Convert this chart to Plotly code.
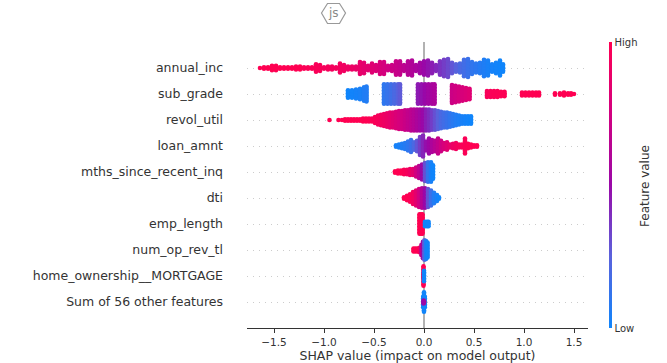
import plotly.graph_objects as go

features = ["annual_inc", "sub_grade", "revol_util", "loan_amnt", "mths_since_recent_inq",
            "dti", "emp_length", "num_op_rev_tl", "home_ownership__MORTGAGE", "Sum of 56 other features"]

annual_inc_shap = [-1.64,-1.6,-1.56,-1.52,-1.48,-1.44,-1.4,-1.36,-1.32,-1.28,-1.24,-1.2,-1.16,-1.12,-1.08,-1.04,-1.0,-.96,-.92,-.88,-.84,-.8,-.76,-.72,-.68,-.64,-.6,-.56,-.52,-.48,-.44,-.4,-.36,-.32,-.28,-.24,-.2,-.16,-.12,-.08,-.04,0,.04,.08,.12,.16,.2,.24,.28,.32,.36,.4,.44,.48,.52,.56,.6,.64,.68,.72,.76,.79]
annual_inc_n = [1,2,2,4,4,2,2,2,2,3,3,2,2,2,6,5,2,3,3,2,7,5,3,3,3,9,8,4,7,5,9,9,4,5,10,10,5,10,11,5,8,10,11,8,5,10,12,13,8,6,7,12,13,9,7,8,12,11,6,8,11,6]
annual_inc_f = [1,1,1,1,1,1,1,1,1,1,1,.98,.98,.97,.97,.96,.95,.95,.94,.94,.93,.92,.91,.9,.88,.87,.85,.84,.82,.8,.78,.76,.74,.72,.7,.68,.65,.62,.6,.57,.54,.5,.47,.44,.41,.38,.35,.32,.28,.24,.2,.17,.14,.11,.09,.07,.05,.03,.02,.01,0,0]

sub_grade_shap = [-.76,-.72,-.68,-.64,-.6,-.575,-.4,-.365,-.33,-.295,-.26,-.24,-.06,-.025,.01,.045,.08,.105,.28,.315,.35,.385,.42,.455,.63,.665,.7,.735,.77,.805,.98,1.015,1.05,1.085,1.12,1.15,1.31,1.36,1.4,1.44,1.47,1.5]
sub_grade_n = [6,6,7,8,10,11,14,14,14,14,14,14,14,14,14,14,14,14,13,12,11,10,9,8,5,5,5,5,4,4,3,3,3,3,3,3,2,2,3,2,2,1]
sub_grade_f = [0,.01,.02,.03,.05,.06,.1,.13,.16,.2,.24,.27,.45,.47,.5,.53,.56,.58,.72,.74,.76,.78,.8,.82,.96,.97,.98,.98,.99,.99,1,1,1,1,1,1,1,1,1,1,1,1]

revol_util_shap = [-.945,-.855,-.82,-.79,-.76,-.73,-.7,-.67,-.64,-.61,-.58,-.55,-.52,-.49,-.46,-.43,-.4,-.37,-.34,-.31,-.28,-.25,-.22,-.19,-.16,-.13,-.1,-.07,-.04,-.01,.02,.05,.08,.11,.14,.17,.2,.23,.26,.29,.32,.35,.38,.41,.44,.47]
revol_util_n = [1,1,1,2,2,2,2,2,2,3,3,3,3,5,7,8,9,10,11,11,12,13,13,14,14,15,15,15,15,15,15,15,14,14,13,12,11,11,10,9,8,7,6,6,6,6]
revol_util_f = [1,1,1,1,1,1,1,1,1,1,1,.99,.98,.97,.95,.93,.91,.89,.86,.83,.8,.77,.74,.71,.68,.65,.62,.58,.54,.5,.44,.4,.35,.3,.25,.2,.17,.14,.11,.08,.06,.04,.03,.02,.01,0]

loan_amnt_shap = [-.28,-.25,-.22,-.19,-.16,-.13,-.1,-.07,-.04,-.01,.02,.05,.08,.11,.14,.17,.2,.23,.26,.29,.32,.35,.38,.41,.44,.47,.5,.53]
loan_amnt_n = [2,3,4,5,7,9,6,8,13,15,7,11,9,8,11,8,5,6,3,4,5,3,3,11,4,3,2,2]
loan_amnt_f = [.02,.03,.05,.07,.1,.14,.2,.28,.35,.42,.48,.52,.58,.63,.68,.73,.78,.82,.86,.9,.93,.95,.97,.98,.99,1,1,1]

mths_shap = [-.29,-.26,-.23,-.2,-.17,-.14,-.11,-.08,-.05,-.02,.01,.04,.07,.09]
mths_n = [2,3,3,4,4,5,5,7,9,11,13,14,14,10]
mths_f = [1,1,1,.98,.95,.9,.85,.75,.65,.5,.3,.12,.03,0]

dti_shap = [-.2,-.17,-.14,-.11,-.08,-.05,-.02,.01,.04,.07,.1,.13,.15]
dti_n = [2,4,6,9,11,13,14,14,13,11,8,5,2]
dti_f = [1,1,.98,.93,.85,.75,.62,.5,.3,.15,.06,.02,0]

emp_length_shap = [-.045,-.03,-.015,.01,.03,.045]
emp_length_n = [14,14,14,4,4,4]
emp_length_f = [1,1,1,0,0,0]

num_op_shap = [-.105,-.085,-.065,-.045,-.025,-.01,.005,.02,.035]
num_op_n = [3,3,3,4,8,12,14,13,11]
num_op_f = [1,1,1,.95,.7,.5,.25,.05,0]

home_shap = [-.005,-.005,.0]
home_n = [14,3,8]
home_f = [1,1,0]

other_shap = [-.008,.0,.008,.0,-.005]
other_n = [8,14,8,2,3]
other_f = [0,0,0,1,.5]

rows = [(annual_inc_shap, annual_inc_n, annual_inc_f), (sub_grade_shap, sub_grade_n, sub_grade_f),
        (revol_util_shap, revol_util_n, revol_util_f), (loan_amnt_shap, loan_amnt_n, loan_amnt_f),
        (mths_shap, mths_n, mths_f), (dti_shap, dti_n, dti_f), (emp_length_shap, emp_length_n, emp_length_f),
        (num_op_shap, num_op_n, num_op_f), (home_shap, home_n, home_f), (other_shap, other_n, other_f)]

DOT_GAP = 1.5 / 26
W, H = 667, 363
L, R, T, B = 247, 588, 42, 328

xs, ys, cs = [], [], []
row_pos = list(range(9, -1, -1))
for pos, (shap, counts, fvals) in zip(row_pos, rows):
    for x, n, f in zip(shap, counts, fvals):
        for i in range(n):
            xs.append(x)
            ys.append(pos + (i - (n - 1) / 2) * DOT_GAP)
            cs.append(f)

colorscale = [[0, "#1085fb"], [.25, "#5a62dc"], [.5, "#9a08a8"], [.75, "#d20080"], [1, "#ff0052"]]
font = "DejaVu Sans"

fig = go.Figure(go.Scatter(
    x=xs, y=ys, mode="markers", hoverinfo="skip",
    marker=dict(size=4.6, color=cs, cmin=0, cmax=1, colorscale=colorscale, line=dict(width=0),
                colorbar=dict(thickness=3, len=1, y=0, yanchor="bottom", ypad=0, xpad=0,
                              x=(608.5 - L) / (R - L), xanchor="left", outlinewidth=0, ticks="",
                              tickvals=[0, 1], ticktext=["Low", "High"],
                              tickfont=dict(family=font, size=10, color="#333")))))

def px(x): return (x - L) / (R - L)
def py(y): return (B - y) / (B - T)

hexagon = [(321.5, 13), (327.5, 3.5), (339.5, 3.5), (345.5, 13), (339.5, 23.5), (327.5, 23.5)]
path = "M " + " L ".join(f"{px(a):.4f},{py(b):.4f}" for a, b in hexagon) + " Z"
fig.add_shape(type="path", path=path, xref="paper", yref="paper", line=dict(color="#999", width=1.2))
fig.add_shape(type="line", x0=0, x1=0, y0=0, y1=1, xref="x", yref="paper", layer="below",
              line=dict(color="#999", width=1.5))
fig.add_annotation(text="js", x=px(333.5), y=py(13), xref="paper", yref="paper", showarrow=False,
                   xanchor="center", yanchor="middle", font=dict(family=font, size=12, color="#888"))
fig.add_annotation(text="Feature value", x=px(645), y=py(186), xref="paper", yref="paper", showarrow=False,
                   xanchor="center", yanchor="middle", textangle=-90, font=dict(family=font, size=12, color="#333"))

fig.update_layout(
    width=W, height=H, margin=dict(l=L, r=W - R, t=T, b=H - B, autoexpand=False),
    paper_bgcolor="white", plot_bgcolor="white", showlegend=False,
    xaxis=dict(range=[-1.77, 1.64], tickvals=[-1.5, -1, -.5, 0, .5, 1, 1.5],
               ticktext=["\u22121.5", "\u22121.0", "\u22120.5", "0.0", "0.5", "1.0", "1.5"],
               showgrid=False, zeroline=False, showline=True, linecolor="#333", linewidth=1,
               ticks="outside", ticklen=4, tickcolor="#333", tickfont=dict(family=font, size=10.5, color="#333"),
               title=dict(text="SHAP value (impact on model output)", standoff=4,
                          font=dict(family=font, size=12.5, color="#333"))),
    yaxis=dict(range=[-1, 10], tickvals=row_pos, ticktext=features, showgrid=True,
               gridcolor="#cccccc", gridwidth=1, griddash="1px,5px", zeroline=False, showline=False,
               ticks="", ticklabelstandoff=23, tickfont=dict(family=font, size=12.5, color="#333")),
)
fig.write_html("out.html", post_script="document.body.style.margin='0';", config={"displayModeBar": False})
